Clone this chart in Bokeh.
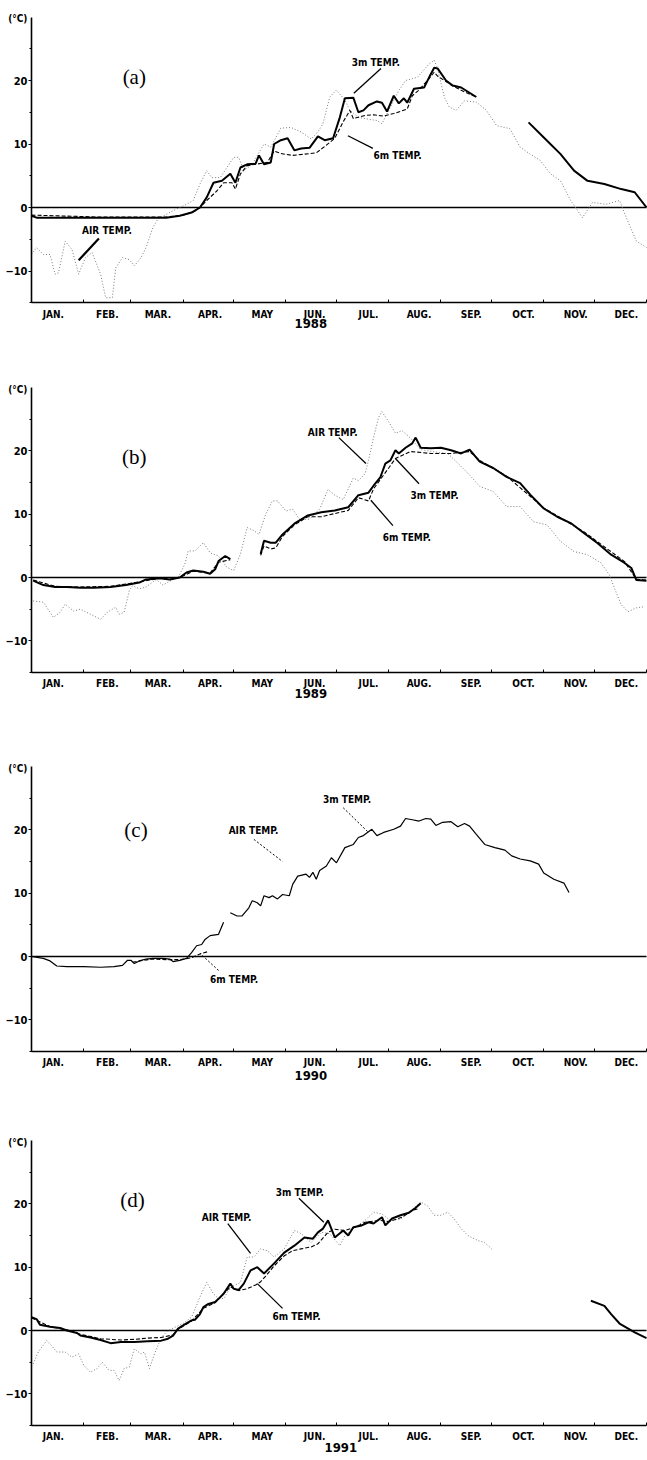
from bokeh.plotting import figure
from bokeh.models import FixedTicker, Label, Range1d
from bokeh.layouts import column
from bokeh.embed import file_html
from bokeh.resources import INLINE

NAN = float("nan")

# ---------------- axis tick data ----------------
MONTH_NAMES = ["JAN.", "FEB.", "MAR.", "APR.", "MAY", "JUN.", "JUL.", "AUG.", "SEP.", "OCT.", "NOV.", "DEC."]
MONTH_LABEL_POS = [13, 45, 75, 106, 137, 168, 200, 230, 261, 292, 323, 353]
MONTH_STARTS = [0, 31, 59, 90, 120, 151, 181, 212, 243, 273, 304, 334, 365]
Y_TICKS = [-10, 0, 10, 20]
Y_MINOR = [-15, -5, 5, 15, 25]
Y_MIN, Y_MAX = -15, 30

# ---------------- (a) 1988 ----------------
a_air_day = [0, 3, 7, 11, 14, 16, 20, 24, 28, 32, 36, 41, 44, 48, 50, 54, 58, 61, 65, 68, 72, 75, 84, 92, 96, 100,
             104, 107, 112, 120, 123, 126, 131, 138, 142, 145, 148, 154, 160, 166, 170, 173, 177, 181, 186, 189, 194,
             200, 205, 208, 213, 218, 222, 229, 236, 239, 241, 245, 248, 252, 257, 264, 270, 276, 284, 290, 296, 302,
             308, 314, 320, 327, 333, 341, 349, 353, 359, 365]
a_air_val = [-7.4, -6.3, -7.4, -7.4, -10.5, -10.3, -5.3, -6.6, -10.5, -7.9, -7.1, -10.5, -14.2, -14.2, -9.5, -7.9,
             -8.2, -9.2, -7.9, -6.3, -3.2, -1.8, -0.5, 0.5, 1.1, 3.7, 5.8, 4.7, 4.7, 7.9, 7.9, 5.8, 6.8, 10, 9.5, 11,
             12.5, 12.6, 11.9, 10.8, 11.9, 13.2, 17.4, 18.5, 16.9, 15.3, 14.2, 13.9, 13.7, 13.2, 15.8, 18.4, 20, 20.5,
             22.6, 23.2, 21.9, 17.4, 15.8, 15.3, 16.8, 16.6, 15.3, 12.9, 12.4, 9.5, 8.4, 7.4, 5.3, 4.2, 1.1, -1.6, 0.8,
             0.5, 1.1, -1.6, -5.3, -6.3]
a_3m_day = [0, 3, 40, 80, 88, 95, 100, 104, 108, 113, 118, 121, 124, 128, 133, 135, 138, 142, 144, 148, 152, 156, 160,
            165, 170, 174, 179, 183, 186, 191, 194, 197, 200, 205, 208, 211, 215, 218, 221, 223, 227, 233, 236, 239,
            241, 246, 250, 255, 264, NAN, 295, 306, 314, 322, 330, 340, 350, 358, 365]
a_3m_val = [-1.3, -1.6, -1.6, -1.6, -1.3, -0.8, 0, 1.6, 3.9, 4.2, 5.3, 3.9, 6.3, 6.8, 6.9, 8.2, 6.8, 7.1, 10, 10.6,
            10.9, 9, 9.3, 9.4, 11.2, 10.6, 10.9, 14.2, 17.2, 17.3, 15, 15.3, 16.1, 16.7, 16.5, 15.1, 17.6, 16.4, 17.2,
            16.5, 18.7, 18.9, 20.5, 22, 21.9, 20, 19.2, 18.9, 17.4, NAN, 13.4, 10.5, 8.4, 5.8, 4.2, 3.7, 2.9, 2.4, 0]
a_6m_day = [0, 40, 80, 90, 96, 100, 104, 110, 114, 119, 121, 124, 128, 140, 144, 148, 155, 169, 174, 180, 185, 189,
            191, 198, 203, 209, 215, 223, 226, 230, 235, 239, 241, 245, 251, 257, 264]
a_6m_val = [-1.2, -1.5, -1.5, -1.2, -0.7, 0, 1.1, 2.6, 3.9, 3.9, 2.9, 5.3, 6.6, 7.1, 8.9, 8.5, 8.2, 8.6, 9.6, 10.9,
            13.5, 15.3, 14, 14.5, 14.6, 14.4, 14.8, 15.5, 17.6, 18.5, 20, 21.3, 20.7, 20, 19, 18.2, 17.4]

# ---------------- (b) 1989 ----------------
b_air_day = [1, 7, 13, 17, 20, 25, 29, 35, 41, 45, 50, 52, 55, 58, 60, 64, 68, 74, 78, 82, 87, 91, 93, 97, 102, 106,
             111, 116, 120, 124, 128, 132, 135, 139, 143, 146, 151, 155, 159, 165, 171, 176, 180, 185, 191, 194, 198,
             200, 203, 206, 208, 212, 216, 220, 225, 231, 238, 243, 247, 254, 260, 266, 274, 282, 290, 298, 306, 314,
             322, 330, 338, 343, 346, 350, 354, 359, 364]
b_air_val = [-3.7, -3.9, -6.3, -5.5, -4.2, -5.3, -5, -5.8, -6.6, -5.5, -4.7, -5.8, -5.5, -2.1, -1.3, -1.8, -1.5, -0.3,
             -1.2, -0.6, 0, 2.1, 4.2, 4.2, 5.5, 3.9, 3.4, 1.6, 1.1, 3.7, 7.9, 7.4, 6.8, 10, 12.1, 12.1, 10.5, 10.8, 9.2,
             9.2, 10.8, 13.9, 13, 12.3, 15.7, 15.3, 16.4, 18.5, 22.1, 25.3, 26.2, 24.6, 22.8, 23.2, 22, 20.2, 19.9,
             19.7, 19.6, 17.8, 16.2, 14.4, 13.6, 11.2, 11.2, 8.8, 8.3, 5.7, 4.1, 3.6, 2.3, 0.4, -1.7, -4.3, -5.4, -4.8,
             -4.6]
b_3m_day = [1, 7, 14, 21, 29, 37, 47, 56, 64, 68, 76, 82, 88, 92, 96, 102, 106, 109, 111, 115, 118, NAN, 136, 138,
            142, 145, 149, 156, 164, 172, 180, 188, 194, 200, 203, 207, 210, 213, 216, 218, 222, 226, 228, 231, 237,
            243, 249, 255, 260, 266, 274, 282, 290, 296, 304, 312, 320, 328, 336, 344, 352, 356, 359, 365]
b_3m_val = [-0.5, -1.2, -1.5, -1.5, -1.6, -1.6, -1.5, -1.2, -0.8, -0.3, -0.1, -0.3, 0, 0.8, 1.1, 0.9, 0.6, 1.3, 2.6,
            3.4, 2.9, NAN, 3.7, 5.8, 5.5, 5.5, 6.8, 8.5, 9.8, 10.3, 10.6, 11.1, 13, 13.4, 14.5, 15.8, 18, 18.5, 20.1,
            19.6, 20.5, 21.2, 22.1, 20.5, 20.4, 20.5, 20.1, 19.6, 20.2, 18.3, 17.3, 15.9, 14.9, 13.1, 10.9, 9.6, 8.6,
            7, 5.4, 3.6, 2.3, 1.5, -0.4, -0.5]
b_6m_day = [1, 14, 29, 47, 64, 76, 88, 96, 106, 111, 118, NAN, 136, 138, 142, 145, 149, 156, 164, 172, 180, 188, 194,
            200, 203, 212, 216, 225, 237, 249, 260, 266, 282, 304, 328, 352, 359, 365]
b_6m_val = [-0.4, -1.4, -1.5, -1.4, -0.7, -0.1, 0, 1, 0.7, 2.4, 2.8, NAN, 3.5, 5, 4.5, 4.7, 6.5, 8.3, 9.6, 9.6, 10.1,
            10.6, 12.6, 12.1, 14, 17.3, 18.8, 19.9, 19.6, 19.6, 19.9, 18.5, 16, 11, 7.2, 2.5, -0.3, -0.4]

# ---------------- (c) 1990 ----------------
c_3m_day = [0, 7, 11, 15, 21, 31, 41, 49, 54, 57, 59, 61, 64, 68, 72, 78, 82, 84, 88, 92, 95, 98, 101, 103, 106, 111,
            114, NAN, 118, 122, 125, 129, 131, 134, 136, 138, 141, 143, 146, 149, 153, 155, 158, 163, 165, 167, 169,
            171, 175, 178, 181, 186, 191, 194, 197, 202, 205, 209, 215, 219, 222, 226, 230, 234, 237, 240, 244, 249,
            253, 257, 260, 264, 269, 275, 281, 285, 290, 296, 301, 304, 310, 316, 319]
c_3m_val = [0, -0.3, -0.7, -1.5, -1.6, -1.6, -1.7, -1.6, -1.4, -0.6, -0.6, -1.1, -0.7, -0.4, -0.3, -0.3, -0.4, -0.8,
            -0.6, -0.3, 0.6, 1.7, 1.9, 2.7, 3.3, 3.5, 5.4, NAN, 6.9, 6.4, 6.4, 7.7, 8.8, 8.5, 8, 9.6, 9.3, 9.6, 9.1,
            9.8, 9.6, 11.4, 12.7, 13, 12.5, 13.3, 12.2, 13.6, 14.3, 15.6, 14.8, 17.2, 17.7, 18.8, 19.1, 20.1, 19.1,
            19.6, 20.1, 20.6, 21.8, 21.6, 21.4, 21.8, 21.7, 20.7, 21.2, 21.3, 20.5, 21, 20.6, 19.3, 17.7, 17.2, 16.8,
            15.9, 15.4, 15.1, 14.6, 13.2, 12.2, 11.6, 10.1]
c_6m_day = [60, 66, 72, 80, 88, 95, 100, 105]
c_6m_val = [-0.9, -0.6, -0.4, -0.5, -0.5, -0.2, 0.4, 0.8]
c_air_day = []
c_air_val = []

# ---------------- (d) 1991 ----------------
d_air_day = [1, 4, 9, 11, 15, 20, 24, 28, 31, 35, 39, 42, 46, 49, 52, 55, 58, 61, 65, 67, 70, 73, 77, 81, 85, 90, 95,
             100, 104, 108, 110, 114, 118, 124, 128, 132, 136, 140, 144, 150, 156, 160, 166, 172, 177, 183, 186, 192,
             198, 203, 208, 213, 219, 225, 231, 235, 239, 243, 247, 251, 255, 259, 265, 269, 273]
d_air_val = [-5.3, -3.4, -1.6, -2.1, -3.4, -3.4, -4.2, -3.7, -5.5, -6.6, -6, -5, -6.3, -6.3, -7.9, -6, -5.8, -2.9,
             -3.7, -3.4, -6, -3.7, -1.1, 0, 0.5, 1.1, 2.1, 5.3, 7.6, 5.8, 5.3, 5, 6.8, 7.6, 11.6, 11.6, 12.9, 12.6,
             11.6, 12.9, 15.8, 15.3, 13.9, 15.5, 15.3, 13.4, 15, 16.3, 17.4, 18.7, 18.4, 17.4, 17.6, 18.9, 20.3, 19.7,
             18.2, 18.2, 18.7, 17.6, 16.1, 15, 14.2, 13.9, 12.9]
d_3m_day = [0, 3, 5, 11, 17, 21, 27, 29, 35, 41, 47, 53, 61, 69, 77, 81, 84, 87, 90, 95, 97, 100, 102, 105, 109, 111,
            114, 118, 120, 123, 126, 130, 134, 138, 144, 150, 156, 162, 167, 170, 173, 176, 180, 185, 188, 191, 196,
            200, 203, 208, 210, 214, 219, 224, 228, 231, NAN, 332, 340, 344, 349, 358, 365]
d_3m_val = [2.1, 1.8, 0.9, 0.6, 0.4, 0, -0.4, -0.8, -1.1, -1.5, -2, -1.8, -1.8, -1.7, -1.6, -1.3, -0.8, 0.3, 0.8, 1.6,
            1.7, 2.6, 3.7, 4.2, 4.5, 5, 5.8, 7.4, 6.6, 6.4, 7.4, 9.5, 10, 9, 10.6, 12.3, 13.4, 14.7, 14.5, 15.5, 16.1,
            17.4, 14.7, 15.8, 15, 16.3, 16.6, 17.1, 16.9, 17.9, 16.6, 17.7, 18.2, 18.6, 19.4, 20.1, NAN, 4.7, 3.9, 2.6,
            1.1, -0.3, -1.2]
d_6m_day = [0, 11, 21, 29, 41, 53, 61, 69, 77, 84, 87, 95, 102, 109, 118, 123, 128, 133, 136, 139, 144, 150, 155, 160,
            166, 170, 176, 180, 186, 192, 198, 207, 212, 220, 226, 229]
d_6m_val = [2.0, 0.6, 0.1, -0.6, -1.3, -1.5, -1.4, -1.2, -1.1, -0.7, 0.2, 1.5, 3.5, 4.4, 6.9, 6.3, 6.6, 7.2, 7.7, 8.6,
            10.2, 11.8, 12.6, 12.9, 13.2, 13.7, 15.5, 16, 15.8, 16.3, 17.1, 17.4, 17.2, 17.9, 19, 19.2]

# ---------------- annotation texts (text, day, temp) ----------------
a_texts = [("3m TEMP.", 190, 22.8), ("6m TEMP.", 203, 8.2), ("AIR TEMP.", 30, -3.6)]
a_leaders = [(207.4, 21.9, 191.3, 18.0, 1.3), (202.6, 9.3, 187.8, 11.3, 1.3), (40, -4.9, 28, -8.3, 2.2)]
b_texts = [("AIR TEMP.", 164, 22.9), ("3m TEMP.", 225, 13.0), ("6m TEMP.", 208.5, 6.3)]
b_leaders = [(182.4, 22.1, 198.5, 18.0, 1.3), (230, 14.8, 216, 18.8, 1.3), (214.5, 8.2, 201.4, 12.2, 1.3)]
c_texts = [("AIR TEMP.", 117, 19.9), ("3m TEMP.", 173, 24.8), ("6m TEMP.", 106, -3.6)]
c_leaders = [(132, 18.5, 149, 15.0, 1.0), (185, 23.5, 200, 19.6, 1.0), (111, -2.2, 100, 0.5, 1.0)]
d_texts = [("3m TEMP.", 145, 21.8), ("AIR TEMP.", 101, 17.9), ("6m TEMP.", 143, 2.2)]
d_leaders = [(158.7, 20.9, 173.5, 17.1, 1.3), (116.5, 16.9, 130, 12.2, 1.3), (134, 7.4, 149, 3.5, 1.3)]

FONT = "DejaVu Sans Condensed, Roboto, sans-serif"
SERIF = "Liberation Serif"

# page-layout geometry (pixels): each whole figure is its plotting frame
FIG_W = 647
AXIS_LEFT_PX = 31            # x of day 0 inside a figure
PX_PER_DAY = 615 / 365.0


def make_panel(letter, letter_pos, year, year_pos, air, m3, m6, texts, leaders,
               fig_h, zero_px, px_per_deg, m3_width, leader_dash):
    x_start = MONTH_STARTS[0] - AXIS_LEFT_PX / PX_PER_DAY
    x_end = x_start + FIG_W / PX_PER_DAY
    y_end = zero_px / px_per_deg
    y_start = y_end - fig_h / px_per_deg
    p = figure(width=FIG_W, height=fig_h,
               x_range=Range1d(x_start, x_end), y_range=Range1d(y_start, y_end),
               output_backend="svg", toolbar_location=None, title=None,
               min_border=0, min_border_left=0, min_border_right=0,
               min_border_top=0, min_border_bottom=0)
    p.outline_line_color = None
    p.xgrid.visible = False
    p.ygrid.visible = False
    p.background_fill_color = "white"
    p.border_fill_color = "white"

    xa = p.xaxis[0]
    xa.fixed_location = Y_MIN
    xa.bounds = (MONTH_STARTS[0], MONTH_STARTS[-1])
    xa.ticker = FixedTicker(ticks=MONTH_LABEL_POS, minor_ticks=MONTH_STARTS)
    xa.major_label_overrides = {pos: name for pos, name in zip(MONTH_LABEL_POS, MONTH_NAMES)}
    xa.major_tick_out = 0
    xa.major_tick_in = 0
    xa.minor_tick_in = 3
    xa.minor_tick_out = 0
    xa.major_label_standoff = 6
    xa.axis_line_width = 1.6
    xa.axis_line_color = "black"
    xa.minor_tick_line_color = "black"
    xa.major_label_text_font = FONT
    xa.major_label_text_font_style = "bold"
    xa.major_label_text_font_size = "10px"
    xa.major_label_text_color = "black"

    ya = p.yaxis[0]
    ya.fixed_location = MONTH_STARTS[0]
    ya.bounds = (Y_MIN, Y_MAX)
    ya.ticker = FixedTicker(ticks=Y_TICKS, minor_ticks=Y_MINOR)
    ya.major_tick_out = 3
    ya.major_tick_in = 0
    ya.minor_tick_out = 2
    ya.minor_tick_in = 0
    ya.major_label_standoff = 1
    ya.axis_line_width = 1.6
    ya.axis_line_color = "black"
    ya.major_tick_line_color = "black"
    ya.minor_tick_line_color = "black"
    ya.major_label_text_font = FONT
    ya.major_label_text_font_style = "bold"
    ya.major_label_text_font_size = "11px"
    ya.major_label_text_color = "black"

    # zero reference line across the year
    p.line([MONTH_STARTS[0], MONTH_STARTS[-1]], [0, 0], line_color="black", line_width=1.6)

    if air[0]:
        p.line(air[0], air[1], line_color="#7a7a7a", line_width=1.0, line_dash="1 2")
    p.line(m6[0], m6[1], line_color="black", line_width=1.1, line_dash="4 2")
    p.line(m3[0], m3[1], line_color="black", line_width=m3_width)

    for (x0, y0, x1, y1, w) in leaders:
        p.segment(x0=[x0], y0=[y0], x1=[x1], y1=[y1], line_color="black",
                  line_width=w, line_dash=leader_dash)

    for (t, x, y) in texts:
        p.add_layout(Label(x=x, y=y, text=t, text_font=FONT, text_font_style="bold",
                           text_font_size="10px", text_align="left", text_baseline="middle",
                           text_color="black"))

    p.add_layout(Label(x=letter_pos[0], y=letter_pos[1], text=letter, text_font=SERIF,
                       text_font_size="21px", text_align="center", text_baseline="middle",
                       text_color="black"))
    p.add_layout(Label(x=-2.4, y=Y_MAX - 0.3, text="(°C)", text_font=FONT, text_font_style="bold",
                       text_font_size="10px", text_align="right", text_baseline="middle",
                       text_color="black"))
    p.add_layout(Label(x=year_pos[0], y=year_pos[1], text=year, text_font=FONT,
                       text_font_style="bold", text_font_size="13px", text_align="center",
                       text_baseline="middle", text_color="black"))
    return p


# figure heights and zero-line pixel offsets (from each figure's top edge)
pa = make_panel("(a)", (61, 20.5), "1988", (165.8, -18.3), (a_air_day, a_air_val), (a_3m_day, a_3m_val),
                (a_6m_day, a_6m_val), a_texts, a_leaders, 375, 207, 6.35, 2.0, "solid")
pb = make_panel("(b)", (61, 19.0), "1989", (165.8, -18.3), (b_air_day, b_air_val), (b_3m_day, b_3m_val),
                (b_6m_day, b_6m_val), b_texts, b_leaders, 380, 202, 6.33, 2.0, "solid")
pc = make_panel("(c)", (62, 20.0), "1990", (165.8, -18.8), (c_air_day, c_air_val), (c_3m_day, c_3m_val),
                (c_6m_day, c_6m_val), c_texts, c_leaders, 378, 201, 6.33, 1.2, "2 2")
pd = make_panel("(d)", (60, 20.6), "1991", (183.6, -18.5), (d_air_day, d_air_val), (d_3m_day, d_3m_val),
                (d_6m_day, d_6m_val), d_texts, d_leaders, 327, 197, 6.33, 2.0, "solid")

layout = column(pa, pb, pc, pd, spacing=0)
open("out.html", "w").write(file_html(layout, INLINE))
